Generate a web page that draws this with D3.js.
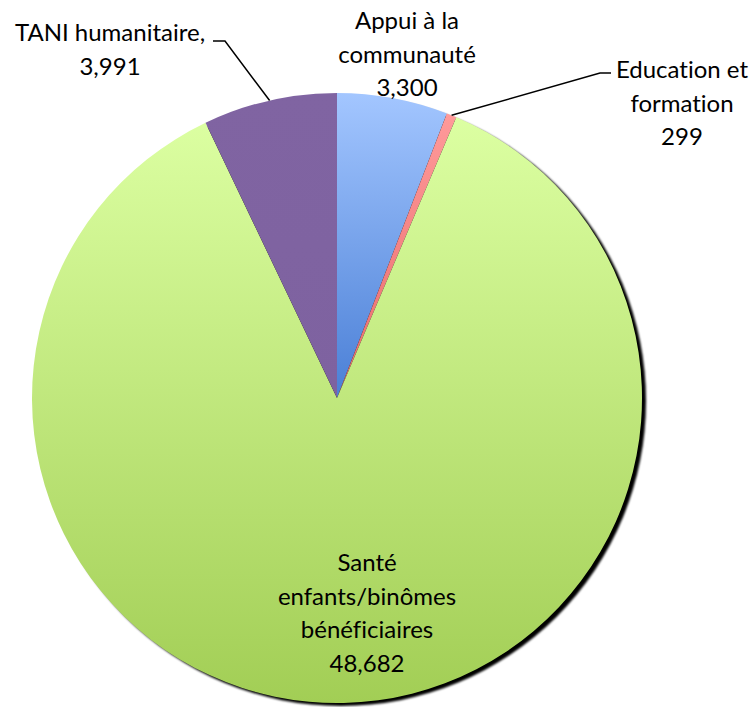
<!DOCTYPE html>
<html>
<head>
<meta charset="utf-8">
<script src="https://cdn.jsdelivr.net/npm/d3@7"></script>
<style>
  body { margin: 0; background: #fff; }
  svg text { font-family: Lato, "Open Sans", sans-serif; fill: #000; font-variant-ligatures: none; }
</style>
</head>
<body>
<div id="chart"></div>
<script>
let categories = ["Appui à la communauté", "Education et formation", "Santé enfants/binômes bénéficiaires", "TANI humanitaire"];
let values = [3300, 299, 48682, 3991];
let valueLabels = ["3,300", "299", "48,682", "3,991"];

let sliceColors = [
    {top: "#a3c6ff", bottom: "#4a7fd6"},
    {top: "#ff9a9a", bottom: "#e86a6a"},
    {top: "#dcffa2", bottom: "#a2ce55"},
    {top: "#8064a2", bottom: "#7e62a0"}
];

// label text lines and where they sit
let labelLines = [
    {lines: ["Appui à la", "communauté", "3,300"], x: 407, y: 29},
    {lines: ["Education et", "formation", "299"], x: 682, y: 78},
    {lines: ["Santé", "enfants/binômes", "bénéficiaires", "48,682"], x: 367, y: 571},
    {lines: ["TANI humanitaire,", "3,991"], x: 110, y: 41}
];

function printPieChart() {
    let width = 755, height = 707,
        cx = 337, cy = 398, radius = 305;

    let svg = d3.select("#chart").append("svg")
        .attr("width", width)
        .attr("height", height);

    let defs = svg.append("defs");

    sliceColors.forEach((c, i) => {
        let grad = defs.append("linearGradient")
            .attr("id", "grad" + i)
            .attr("x1", 0).attr("y1", 0)
            .attr("x2", 0).attr("y2", 1);
        grad.append("stop").attr("offset", "0%").attr("stop-color", c.top);
        grad.append("stop").attr("offset", "100%").attr("stop-color", c.bottom);
    });

    defs.append("filter")
        .attr("id", "blur")
        .append("feGaussianBlur")
        .attr("stdDeviation", 0.8);

    let g = svg.append("g")
        .attr("transform", "translate(" + cx + "," + cy + ")");

    // shadow
    g.append("circle")
        .attr("cx", 4)
        .attr("cy", 3)
        .attr("r", radius)
        .attr("fill", "#000")
        .attr("filter", "url(#blur)");

    let pie = d3.pie().sort(null).value((d) => d);
    let arcs = pie(values);
    let arc = d3.arc().innerRadius(0).outerRadius(radius);

    g.selectAll(".slice")
        .data(arcs)
        .enter().append("path")
        .attr("class", "slice")
        .attr("d", arc)
        .attr("fill", (d, i) => "url(#grad" + i + ")");

    // leader lines
    let outer = d3.arc().innerRadius(radius).outerRadius(radius);
    let eduPt = outer.centroid(arcs[1]);
    let taniPt = outer.centroid(arcs[3]);

    let leaders = [
        [eduPt, [600 - cx, 73 - cy], [611 - cx, 73 - cy]],
        [taniPt, [225 - cx, 41 - cy], [213 - cx, 41 - cy]]
    ];

    g.selectAll(".leader")
        .data(leaders)
        .enter().append("path")
        .attr("class", "leader")
        .attr("d", d3.line())
        .attr("fill", "none")
        .attr("stroke", "#000")
        .attr("stroke-width", 1.5);

    let labels = svg.selectAll(".label")
        .data(labelLines)
        .enter().append("text")
        .attr("class", "label")
        .attr("text-anchor", "middle")
        .style("font-size", "24px");

    labels.selectAll("tspan")
        .data((d) => d.lines.map((t) => ({t: t, x: d.x, y: d.y})))
        .enter().append("tspan")
        .attr("x", (d) => d.x)
        .attr("y", (d, i) => d.y + i * 33.5)
        .text((d) => d.t);
}

printPieChart();
</script>
</body>
</html>
